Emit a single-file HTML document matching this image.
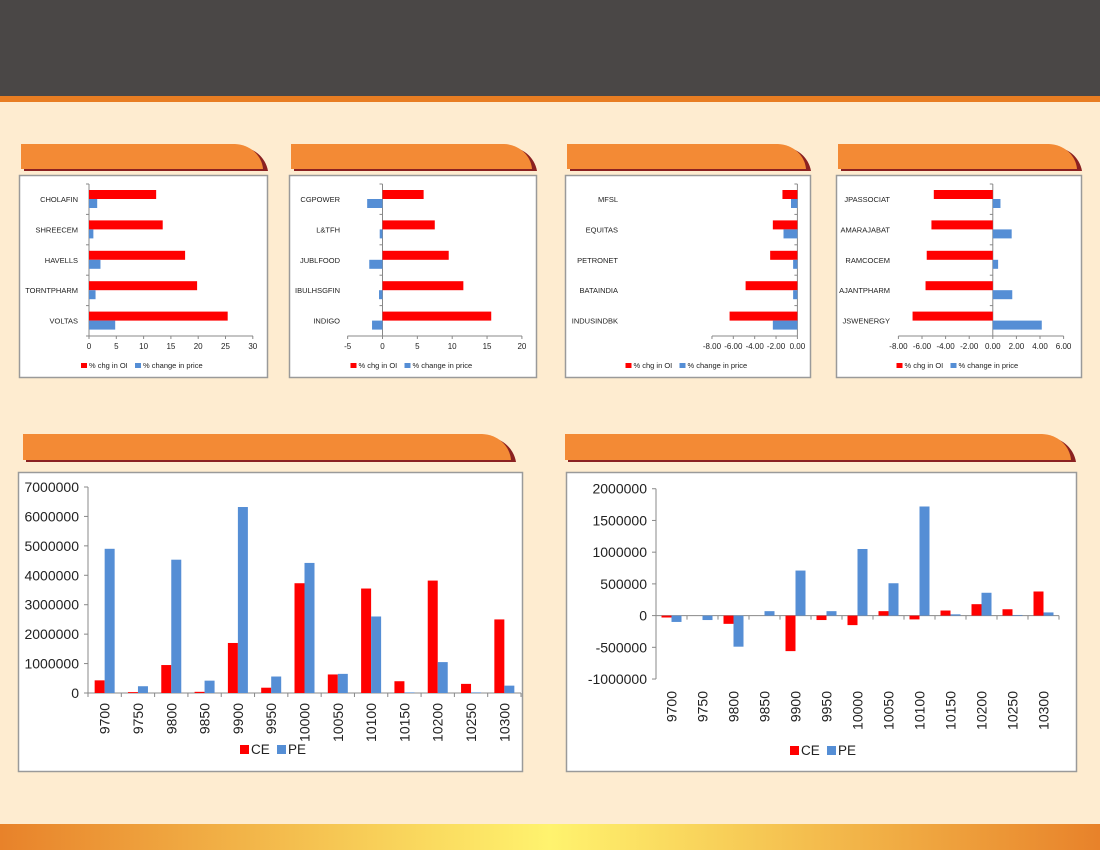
<!DOCTYPE html>
<html><head><meta charset="utf-8"><style>
body{margin:0;width:1100px;height:850px;overflow:hidden;background:#feecd0;font-family:"Liberation Sans",sans-serif}
svg{position:absolute;left:0;top:0}
</style></head><body>
<svg id="s" width="1100" height="850" xmlns="http://www.w3.org/2000/svg">
<defs><linearGradient id="ft" x1="0" x2="1"><stop offset="0" stop-color="#e8822a"/><stop offset="0.5" stop-color="#fff36e"/><stop offset="1" stop-color="#e8822a"/></linearGradient></defs>
<rect x="0" y="0" width="1100" height="96" fill="#4a4746"/>
<rect x="0" y="96" width="1100" height="6" fill="#e87d22"/>
<rect x="0" y="824" width="1100" height="26" fill="url(#ft)"/>
<g id="g"></g>
</svg>
<script>
var g=document.getElementById('g'),h='';
function R(x,y,w,hh,c,extra){if(w<0){x+=w;w=-w}if(hh<0){y+=hh;hh=-hh}h+='<rect x="'+x+'" y="'+y+'" width="'+w+'" height="'+hh+'" fill="'+c+'" '+(extra||'')+'/>'}
function T(x,y,t,sz,anc,extra){h+='<text x="'+x+'" y="'+y+'" font-size="'+sz+'" text-anchor="'+(anc||'start')+'" fill="#222" '+(extra||'')+'>'+t+'</text>'}
function L(x1,y1,x2,y2){h+='<line x1="'+x1+'" y1="'+y1+'" x2="'+x2+'" y2="'+y2+'" stroke="#888" stroke-width="1"/>'}
function hdr(x1,y1,x2,y2){var r=(y2-y1)+4;
 h+='<path d="M'+(x1+3)+' '+(y1+3)+' H'+(x2-r)+' A'+r+' '+r+' 0 0 1 '+x2+' '+(y2+2)+' H'+(x1+3)+' Z" fill="#8b2121"/>';
 h+='<path d="M'+x1+' '+y1+' H'+(x2-r-4)+' A'+(r)+' '+(r-2)+' 0 0 1 '+(x2-5)+' '+y2+' H'+x1+' Z" fill="#f38a35"/>';}
function box(x1,y1,x2,y2){h+='<rect x="'+(x1+.5)+'" y="'+(y1+.5)+'" width="'+(x2-x1)+'" height="'+(y2-y1)+'" fill="#fff" stroke="#9a9a9a" stroke-width="1.5"/>'}
function hbar(o){hdr(o.bx1+2,144,o.bx2+1,169);box(o.bx1,175,o.bx2,377);
 var top=184,bot=336,n=5,cw=(bot-top)/n;
 L(o.z,top,o.z,bot);
 L(o.x0,bot,o.x1,bot);
 for(var i=0;i<=n;i++)L(o.z-3,top+i*cw,o.z,top+i*cw);
 for(var k=0;k<o.ticks.length;k++){var v=o.ticks[k],x=o.z+v*o.s;L(x,bot,x,bot+3);T(x,bot+13,o.fmt(v),8,'middle')}
 for(var i=0;i<n;i++){var y=top+i*cw+6;
  R(o.z,y,o.a[i]*o.s,9,'#ff0000');R(o.z,y+9,o.b[i]*o.s,9,'#558ed5');
  T(o.lx,y+12,o.n[i],7.5,'end');}
 var cx=(o.bx1+o.bx2)/2;R(cx-62,363,6,5,'#ff0000');T(cx-54,368,'% chg in OI',7.5);R(cx-8,363,6,5,'#558ed5');T(cx,368,'% change in price',7.5);
}
var f0=function(v){return v},f2=function(v){return v.toFixed(2)};
hbar({bx1:19,bx2:267,z:89,s:5.46,x0:89,x1:253,ticks:[0,5,10,15,20,25,30],fmt:f0,lx:78,
 n:['CHOLAFIN','SHREECEM','HAVELLS','TORNTPHARM','VOLTAS'],a:[12.3,13.5,17.6,19.8,25.4],b:[1.5,0.8,2.1,1.2,4.8]});
hbar({bx1:289,bx2:536,z:382.5,s:6.97,x0:347.5,x1:522,ticks:[-5,0,5,10,15,20],fmt:f0,lx:340,
 n:['CGPOWER','L&amp;TFH','JUBLFOOD','IBULHSGFIN','INDIGO'],a:[5.9,7.5,9.5,11.6,15.6],b:[-2.2,-0.4,-1.9,-0.5,-1.5]});
hbar({bx1:565,bx2:810,z:797.4,s:10.68,x0:712,x1:797.4,ticks:[-8,-6,-4,-2,0],fmt:f2,lx:618,
 n:['MFSL','EQUITAS','PETRONET','BATAINDIA','INDUSINDBK'],a:[-1.4,-2.3,-2.55,-4.85,-6.35],b:[-0.6,-1.3,-0.4,-0.4,-2.3]});
hbar({bx1:836,bx2:1081,z:992.8,s:11.8,x0:898.4,x1:1063.6,ticks:[-8,-6,-4,-2,0,2,4,6],fmt:f2,lx:890,
 n:['JPASSOCIAT','AMARAJABAT','RAMCOCEM','AJANTPHARM','JSWENERGY'],a:[-5.0,-5.2,-5.6,-5.7,-6.8],b:[0.65,1.6,0.45,1.65,4.15]});
var cats=['9700','9750','9800','9850','9900','9950','10000','10050','10100','10150','10200','10250','10300'];
function vbar(o){hdr(o.hx1,434,o.hx2,460);box(o.bx1,472,o.bx2,771);
 var n=13,cw=(o.x1-o.x0)/n;
 L(o.x0,o.ytop,o.x0,o.ybot);
 L(o.x0,o.zy,o.x1,o.zy);
 for(var k=0;k<o.ticks.length;k++){var v=o.ticks[k],y=o.zy-v*o.s;L(o.x0-4,y,o.x0,y);T(o.x0-9,y+5,v,14,'end')}
 for(var i=0;i<=n;i++)L(o.x0+i*cw,o.zy,o.x0+i*cw,o.zy+4);
 for(var i=0;i<n;i++){var x=o.x0+i*cw+cw/2;
  R(x-10,o.zy,10,-o.a[i]*o.s,'#ff0000');R(x,o.zy,10,-o.b[i]*o.s,'#558ed5');
  T(x+5,o.ly,cats[i],14,'end','transform="rotate(-90 '+(x+5)+' '+o.ly+')"');}
 R(o.lc-34,o.legy-9,9,9,'#ff0000');T(o.lc-23,o.legy,'CE',13.5);R(o.lc+3,o.legy-9,9,9,'#558ed5');T(o.lc+14,o.legy,'PE',13.5);
}
vbar({hx1:23,hx2:516,bx1:18,bx2:522,x0:88,x1:521,ytop:487,ybot:693,zy:693,s:206/7000000,
 ticks:[0,1000000,2000000,3000000,4000000,5000000,6000000,7000000],ly:703,lc:274,legy:754,
 a:[430000,30000,950000,40000,1700000,180000,3730000,630000,3550000,400000,3820000,310000,2500000],
 b:[4900000,230000,4530000,420000,6320000,560000,4420000,650000,2600000,20000,1050000,20000,250000]});
vbar({hx1:565,hx2:1076,bx1:566,bx2:1076,x0:656,x1:1059,ytop:488.7,ybot:679,zy:615.6,s:190.3/3000000,
 ticks:[-1000000,-500000,0,500000,1000000,1500000,2000000],ly:691,lc:824,legy:755,
 a:[-30000,0,-130000,0,-560000,-70000,-150000,70000,-60000,80000,180000,100000,380000],
 b:[-100000,-70000,-490000,70000,710000,70000,1050000,510000,1720000,20000,360000,10000,50000]});
g.innerHTML=h;
</script>
</body></html>
